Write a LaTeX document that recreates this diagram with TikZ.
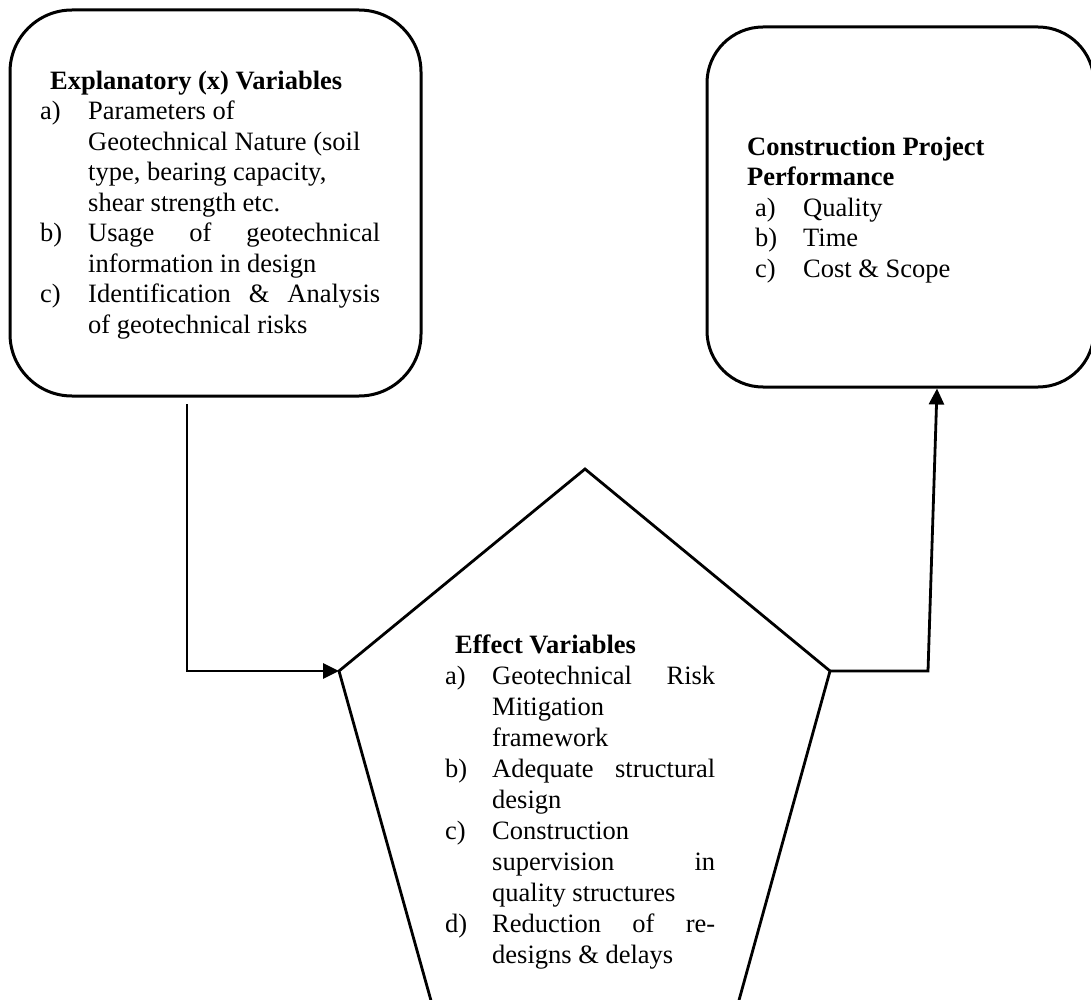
\documentclass[tikz,border=0pt]{standalone}
\usepackage{fontspec}
\setmainfont{Liberation Serif}
\usetikzlibrary{arrows.meta}
% list label of fixed width, and a justified line of given width
\newcommand\lbl[1]{\makebox[48pt][l]{#1}}
\newcommand\plbl[1]{\makebox[47pt][l]{#1}}
\newcommand\jline[2]{\makebox[#1][s]{#2}}

\begin{document}
\begin{tikzpicture}[x=1pt,y=-1pt,
  box/.style={draw, line width=3pt, inner sep=0pt, rounded corners=#1},
  txt/.style={inner sep=0pt, align=left, anchor=base west,
              font=\fontsize{26.5}{30.5}\selectfont},
  ptxt/.style={txt, font=\fontsize{26.5}{31}\selectfont},
  edge line/.style={line width=2.8pt, line join=miter},
  conn/.style={line width=2.8pt, -{Triangle[length=16pt,width=15pt]}}]
\useasboundingbox (0,0) rectangle (1091,1000);
\clip (0,0) rectangle (1091,1000);

% rounded boxes
\node[box=62pt, minimum width=411pt, minimum height=386pt] (expl) at (215.5,203) {};
\node[box=56pt, minimum width=387pt, minimum height=360pt] (perf) at (900.5,207) {};

% box texts (placed by the baseline of their last line)
\node[txt] (expltext) at (40,333) {%
  \hspace*{10pt}\textbf{Explanatory (x) Variables}\\
  \lbl{a)}Parameters of\\
  \lbl{}Geotechnical Nature (soil\\
  \lbl{}type, bearing capacity,\\
  \lbl{}shear strength etc.\\
  \lbl{b)}\jline{292pt}{Usage of geotechnical}\\
  \lbl{}information in design\\
  \lbl{c)}\jline{292pt}{Identification \& Analysis}\\
  \lbl{}of geotechnical risks};

\node[txt] (perftext) at (747,277) {%
  \textbf{Construction Project}\\
  \textbf{Performance}\\
  \hspace*{8pt}\lbl{a)}Quality\\
  \hspace*{8pt}\lbl{b)}Time\\
  \hspace*{8pt}\lbl{c)}Cost \& Scope};

% pentagon (its lower part runs off the page)
\coordinate (pT) at (585,469);
\coordinate (pL) at (339,671);
\coordinate (pR) at (830,671);
\coordinate (pBL) at (442,1040);
\coordinate (pBR) at (728,1040);
\draw[edge line] (pBL) -- (pL) -- (pT) -- (pR) -- (pBR);

\node[ptxt] (efftext) at (445,963) {%
  \hspace*{10pt}\textbf{Effect Variables}\\
  \plbl{a)}\jline{223pt}{Geotechnical Risk}\\
  \plbl{}Mitigation\\
  \plbl{}framework\\
  \plbl{b)}\jline{223pt}{Adequate structural}\\
  \plbl{}design\\
  \plbl{c)}Construction\\
  \plbl{}\jline{223pt}{supervision in}\\
  \plbl{}quality structures\\
  \plbl{d)}\jline{223pt}{Reduction of re-}\\
  \plbl{}designs \& delays};

% connectors
\coordinate (e1) at (187,404);
\draw[conn] (e1) |- (pL);
\coordinate (r1) at (928,671);
\path (perf.south) ++(36.5,0) coordinate (r2);
\draw[conn] (pR) -- (r1) -- (r2);
\end{tikzpicture}
\end{document}
